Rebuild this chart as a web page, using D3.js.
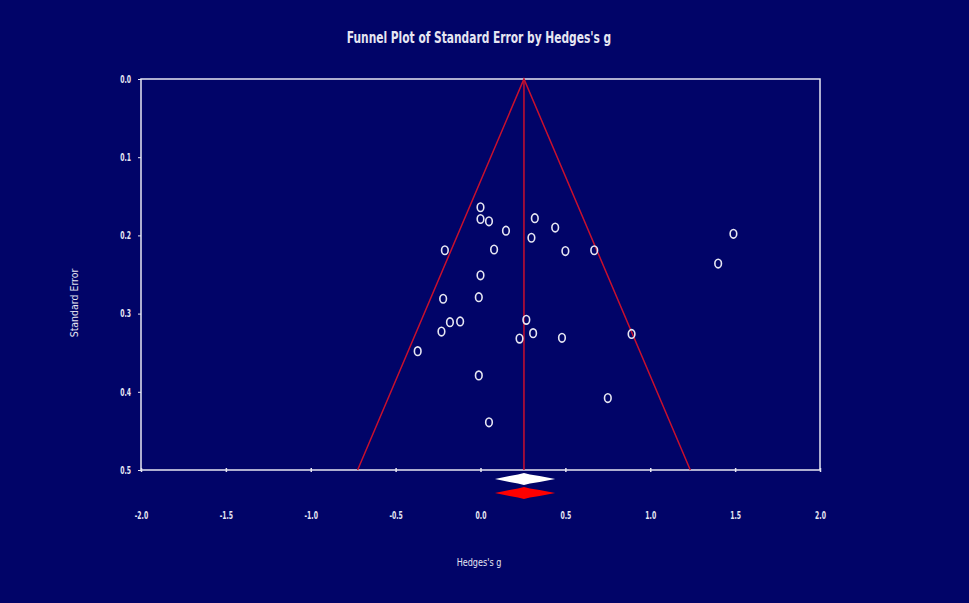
<!DOCTYPE html>
<html>
<head>
<meta charset="utf-8">
<script src="https://cdn.jsdelivr.net/npm/d3@7"></script>
<style>
  html, body { margin: 0; padding: 0; background: #010468; }
  svg { display: block; }
  .tick text { font-family: "DejaVu Sans Condensed", "Liberation Sans", sans-serif; font-weight: bold; }
</style>
</head>
<body>
<svg id="chart" width="969" height="603"></svg>
<script>
// Study effect sizes (Hedges's g) and their standard errors
const hedgesG = [0.00, 0.00, 0.05, 0.15, 0.32, 0.44, 0.30, -0.21, 0.08, 0.50, 0.67,
                 0.00, -0.22, -0.01, -0.18, -0.12, -0.23, 0.27, 0.31, 0.23, 0.48, 0.89,
                 -0.37, -0.01, 0.75, 0.05, 1.49, 1.40];
const stdErr  = [0.164, 0.179, 0.182, 0.194, 0.178, 0.190, 0.203, 0.219, 0.218, 0.220, 0.219,
                 0.251, 0.281, 0.279, 0.311, 0.310, 0.323, 0.308, 0.325, 0.332, 0.331, 0.326,
                 0.348, 0.379, 0.408, 0.439, 0.198, 0.236];

// pooled estimate and its confidence limits: observed (white) and adjusted (red)
const summaryLabels = ["observed", "adjusted"];
const summaryPoint  = [0.256, 0.256];
const summaryLower  = [0.085, 0.085];
const summaryUpper  = [0.44, 0.44];

const xTicks = [-2.0, -1.5, -1.0, -0.5, 0.0, 0.5, 1.0, 1.5, 2.0];
const yTicks = [0.0, 0.1, 0.2, 0.3, 0.4, 0.5];

const W = 969, H = 603;
const margins = {left: 141, right: 149, top: 79, bottom: 133};
const plotW = W - margins.left - margins.right;
const plotH = H - margins.top - margins.bottom;

const fg = "#e6e6f2";
const funnelRed = "#c8102e";
const font = '"DejaVu Sans Condensed", "Liberation Sans", sans-serif';

// squeeze text horizontally, the original uses a narrow face
function narrow(sel, k) {
    sel.each(function() {
        const L = this.getComputedTextLength();
        d3.select(this).attr("textLength", L * k).attr("lengthAdjust", "spacingAndGlyphs");
    });
}

const svg = d3.select("#chart");
svg.append("rect").attr("width", W).attr("height", H).attr("fill", "#010468");

const x = d3.scaleLinear().domain([-2, 2]).range([0, plotW]);
const y = d3.scaleLinear().domain([0, 0.5]).range([0, plotH]);

const g = svg.append("g").attr("transform", `translate(${margins.left}, ${margins.top})`);

// title
svg.append("text")
    .attr("x", 479).attr("y", 43)
    .attr("text-anchor", "middle")
    .attr("fill", fg)
    .style("font-family", font)
    .style("font-weight", "bold")
    .style("font-size", "16px")
    .text("Funnel Plot of Standard Error by Hedges's g")
    .call(narrow, 0.74);

// plot frame
g.append("rect")
    .attr("x", 0).attr("y", 0)
    .attr("width", plotW).attr("height", plotH)
    .attr("fill", "none").attr("stroke", fg).attr("stroke-width", 1.5);

const fmt = d => d.toFixed(1);

// y axis
const yAxis = g.append("g")
    .call(d3.axisLeft(y).tickValues(yTicks).tickFormat(fmt).tickSize(3).tickPadding(7));
yAxis.select(".domain").remove();
yAxis.selectAll(".tick line").attr("stroke", fg);
yAxis.selectAll(".tick text").attr("fill", fg).style("font-size", "10px").call(narrow, 0.68);

// x axis: small marks crossing the bottom line, labels well below it
const xAxis = g.append("g")
    .attr("transform", `translate(0, ${plotH})`)
    .call(d3.axisBottom(x).tickValues(xTicks).tickFormat(fmt).tickSize(2).tickPadding(40));
xAxis.select(".domain").remove();
xAxis.selectAll(".tick line").attr("y1", -2).attr("stroke", fg).attr("stroke-width", 1.5);
xAxis.selectAll(".tick text").attr("fill", fg).style("font-size", "10px").call(narrow, 0.68);

// funnel (pseudo 95% limits) and the mean line
const mean = summaryPoint[0];
const seMax = 0.5;
g.append("path")
    .attr("d", d3.line()([
        [x(mean - 1.96 * seMax), y(seMax)],
        [x(mean), y(0)],
        [x(mean + 1.96 * seMax), y(seMax)]
    ]))
    .attr("fill", "none").attr("stroke", funnelRed).attr("stroke-width", 1.5);
g.append("line")
    .attr("x1", x(mean)).attr("x2", x(mean))
    .attr("y1", y(0)).attr("y2", y(seMax))
    .attr("stroke", funnelRed).attr("stroke-width", 1.5);

// studies
g.selectAll("ellipse.study")
    .data(hedgesG.map((v, i) => ({g: v, se: stdErr[i]})))
    .join("ellipse")
    .attr("class", "study")
    .attr("cx", d => x(d.g)).attr("cy", d => y(d.se))
    .attr("rx", 3.3).attr("ry", 4.3)
    .attr("fill", "none").attr("stroke", fg).attr("stroke-width", 1.6);

// summary diamonds below the frame
const diamondColors = ["#ffffff", "#ff0000"];
const diamondY = [plotH + 9, plotH + 23];
g.selectAll("path.summary")
    .data(summaryLabels.map((k, i) => ({k, i})))
    .join("path")
    .attr("class", "summary")
    .attr("d", d => {
        const c = x(summaryPoint[d.i]), lo = x(summaryLower[d.i]), hi = x(summaryUpper[d.i]);
        const cy = diamondY[d.i];
        return d3.line()([
            [lo, cy], [lo + (c - lo) * 0.5, cy - 3], [c - 6, cy - 4.5], [c, cy - 6],
            [c + 6, cy - 4.5], [c + (hi - c) * 0.5, cy - 3], [hi, cy],
            [c + (hi - c) * 0.5, cy + 3], [c + 6, cy + 4.5], [c, cy + 6],
            [c - 6, cy + 4.5], [lo + (c - lo) * 0.5, cy + 3]
        ]) + "Z";
    })
    .attr("fill", d => diamondColors[d.i]);

// axis titles
svg.append("text")
    .attr("transform", "translate(78, 303) rotate(-90)")
    .attr("text-anchor", "middle")
    .attr("fill", fg)
    .style("font-family", font)
    .style("font-size", "11px")
    .text("Standard Error")
    .call(narrow, 0.95);
svg.append("text")
    .attr("x", 479).attr("y", 566)
    .attr("text-anchor", "middle")
    .attr("fill", fg)
    .style("font-family", font)
    .style("font-size", "10px")
    .text("Hedges's g")
    .call(narrow, 0.9);
</script>
</body>
</html>
